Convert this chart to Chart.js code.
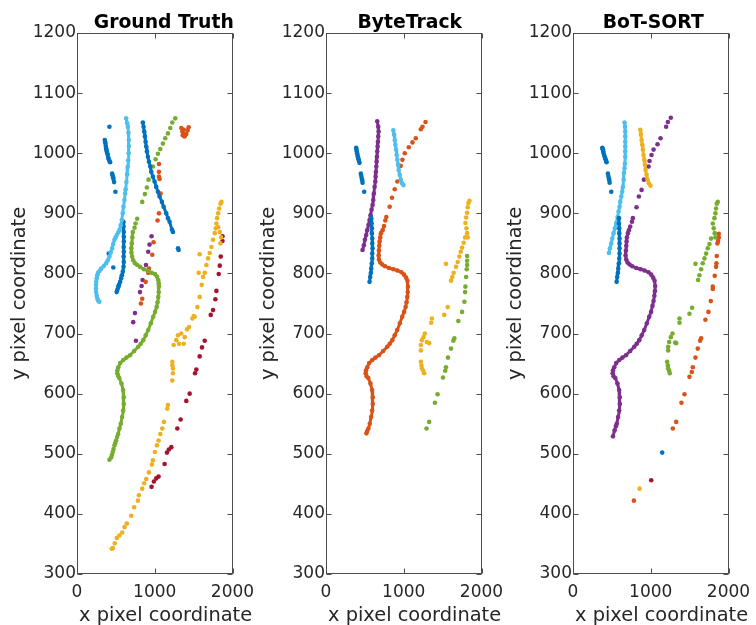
<!DOCTYPE html>
<html>
<head>
<meta charset="utf-8">
<script src="https://cdn.jsdelivr.net/npm/chart.js@4.4.1/dist/chart.umd.min.js"></script>
<style>
  body { margin: 0; background: #fff; }
  #wrap { position: relative; width: 756px; height: 625px; overflow: hidden; background: #fff; }
  .panel { position: absolute; top: 0; width: 260px; height: 625px; }
</style>
</head>
<body>
<div id="wrap">
  <canvas id="gt" class="panel" width="260" height="625" style="left:0px"></canvas>
  <canvas id="bt" class="panel" width="260" height="625" style="left:249px"></canvas>
  <canvas id="bs" class="panel" width="260" height="625" style="left:496px"></canvas>
</div>
<script>
'use strict';

// axis ticks
const xTickValues = [0, 1000, 2000];
const yTickValues = [300, 400, 500, 600, 700, 800, 900, 1000, 1100, 1200];

// matlab default colour order
const cBlue = '#0072BD', cOrange = '#D95319', cYellow = '#EDB120', cPurple = '#7E2F8E',
      cGreen = '#77AC30', cLightBlue = '#4DBEEE', cRed = '#A2142F';

// ---------- Ground Truth ----------
const gtLightBlue = [[632,1058],[645,1050],[654,1044],[662,1034],[667,1022],[667,1012],[664,1000],[658,988],[654,978],[645,965],
  [636,952],[626,940],[619,933],[610,922],[598,911],[588,900],[576,889],[562,880],[546,872],[530,868],[512,864],[496,860],
  [482,856],[466,849],[452,842],[434,835],[417,828],[396,822],[374,817],[342,812],[310,808],[290,804],[271,801],[260,797],
  [254,792],[248,786],[245,781],[244,775],[245,769],[253,763],[262,758],[272,755],[287,753]];
const gtBlueDots = [[417,1044],[357,1022],[362,1019],[366,1016],[370,1012],[374,1008],[378,1006],[383,1003],[390,1000],[396,997],
  [402,993],[408,990],[418,987],[426,985],[452,966],[458,963],[465,960],[469,957],[477,952],[494,936],[408,833],[467,810],
  [1299,842],[1307,839]];
const gtBlueDiag = [[847,1051],[856,1044],[864,1036],[873,1028],[882,1019],[890,1011],[899,1003],[912,994],[925,986],[942,978],
  [955,969],[976,961],[998,953],[1019,944],[1041,936],[1062,928],[1092,919],[1114,911],[1148,900],[1170,892],[1191,886],
  [1221,873],[1234,869]];
const gtBlueVert = [[598,886],[598,878],[602,869],[602,861],[602,853],[600,844],[602,836],[600,828],[602,819],[598,811],
  [589,803],[578,797],[568,792],[555,786],[540,781],[531,778],[520,773],[510,769]];
const gtGreenDots = [[1264,1058],[1226,1051],[1200,1042],[1170,1033],[1135,1025],[1105,1016],[1071,1007],[1041,999],[1011,990],
  [976,978],[920,956],[899,943],[873,932],[839,919],[774,891],[753,883],[740,876],
  [516,528],[503,522],[492,518],[482,514],[470,508],[460,503],[449,498],[439,494],[417,490]];
const gtGreenCurve = [[718,869],[712,860],[705,850],[699,842],[700,835],[708,828],[723,822],[745,817],[775,814],[810,811],
  [860,807],[916,804],[960,801],[1002,799],[1028,795],[1045,789],[1052,783],[1054,778],[1051,769],[1045,761],[1036,752],
  [1024,744],[1004,736],[980,728],[950,717],[916,706],[884,697],[852,689],[820,683],[788,678],[735,671],[681,664],[636,660],
  [595,656],[556,651],[531,644],[520,639],[518,634],[528,630],[544,626],[572,617],[593,606],[602,594],[602,583],[593,572],
  [580,561],[563,550],[546,542],[529,533]];
const gtOrange = [[1342,1042],[1355,1036],[1372,1032],[1389,1029],[1406,1032],[1423,1038],[1436,1043],[1372,1039],[1360,1030],
  [1380,1028],[1054,982],[1054,969],[1054,961],[1062,957],[1075,933],[1054,900],[1036,888],[985,852],[968,831],[925,808],
  [916,801],[883,786],[839,758],[822,750]];
const gtPurple = [[959,862],[933,848],[916,836],[887,814],[844,789],[831,779],[810,769],[745,734],[723,719],[758,688]];
const gtYellow = [[1858,919],[1845,916],[1828,908],[1815,900],[1802,892],[1793,883],[1785,875],[1815,877],[1836,869],[1853,860],
  [1845,850],[1772,867],[1750,856],[1729,844],[1707,834],[1686,825],[1664,814],[1578,832],[1565,801],[1643,801],[1621,794],
  [1604,781],[1578,761],[1548,744],[1514,728],[1501,729],[1484,725],[1441,711],[1415,707],[1385,694],[1372,683],[1342,700],
  [1299,697],[1277,689],[1312,683],[1243,681],[1226,653],[1226,647],[1234,642],[1234,634],[1226,622],[1170,581],[1161,575],
  [1118,553],[1097,542],[1071,533],[1049,522],[1028,514],[1002,503],[976,489],[963,482],[925,469],[890,458],[864,451],
  [839,442],[796,431],[783,422],[735,411],[697,397],[641,384],[611,378],[581,369],[546,364],[512,360],[486,351],[460,343],
  [447,342]];
const gtRed = [[1871,862],[1871,854],[1849,828],[1836,813],[1823,799],[1793,771],[1780,757],[1750,739],[1720,731],[1643,688],
  [1608,677],[1578,662],[1535,640],[1518,634],[1449,600],[1406,588],[1333,557],[1290,542],[1213,511],[1182,507],[1157,502],
  [1127,483],[1049,462],[1019,459],[989,454],[959,445]];

// ---------- ByteTrack ----------
const btBlueDots = [[388,1009],[392,1006],[396,1003],[401,1000],[405,997],[409,994],[414,992],[418,990],[424,987],[431,984],
  [448,966],[454,962],[461,958],[466,955],[470,951],[491,936]];
const btBlueVert = [[582,892],[586,883],[590,875],[590,867],[595,858],[595,850],[599,842],[595,833],[595,825],[590,817],
  [582,808],[578,801],[569,794],[560,786]];
const btPurple = [[659,1053],[672,1044],[677,1036],[672,1028],[668,1019],[664,1011],[659,1003],[655,994],[651,986],[647,978],
  [642,969],[638,961],[634,953],[625,944],[616,933],[608,922],[599,914],[586,906],[573,897],[560,889],[547,881],[530,872],
  [517,864],[500,856],[487,847],[470,839]];
const btLightBlue = [[866,1038],[875,1031],[884,1022],[892,1014],[901,1006],[909,997],[918,989],[927,981],[935,972],[948,964],
  [961,956],[978,950],[996,947]];
const btOrangeDots = [[1280,1052],[1241,1044],[1220,1040],[1155,1025],[1112,1018],[1065,1010],[1013,1000],[983,989],[961,979],
  [918,953],[884,940],[849,926],[819,911],[776,894],[763,888]];
const btOrangeCurve = [[746,879],[728,872],[707,867],[698,860],[690,853],[685,846],[681,838],[677,830],[681,823],[698,818],
  [724,815],[759,812],[810,809],[866,807],[918,805],[970,802],[1004,798],[1030,793],[1047,788],[1054,778],[1051,769],
  [1045,761],[1036,752],[1024,744],[1004,736],[980,728],[950,717],[916,706],[884,697],[852,689],[820,683],[788,678],
  [735,671],[681,664],[636,660],[595,656],[556,651],[531,644],[515,639],[510,634],[522,629],[544,626],[572,617],[593,606],
  [602,594],[602,583],[593,572],[580,561],[563,550],[546,542],[530,538],[520,534]];
const btYellow = [[1845,921],[1832,917],[1823,910],[1815,901],[1802,893],[1793,884],[1806,875],[1815,867],[1823,860],[1789,860],
  [1771,851],[1750,843],[1733,836],[1715,828],[1694,819],[1672,811],[1642,801],[1625,794],[1608,788],[1543,816],[1565,744],
  [1521,731],[1362,725],[1353,718],[1271,700],[1254,694],[1233,689],[1220,681],[1220,672],[1297,686],[1327,684],[1220,653],
  [1228,647],[1233,642],[1250,638],[1263,634]];
const btGreen = [[1815,829],[1815,821],[1815,814],[1810,807],[1802,794],[1793,778],[1789,769],[1780,753],[1750,736],[1702,721],
  [1651,692],[1638,688],[1608,675],[1569,660],[1543,644],[1534,638],[1504,627],[1435,599],[1401,585],[1327,553],[1293,542]];

// ---------- BoT-SORT ----------
const bsBlueDots = [[377,1009],[381,1007],[385,1006],[390,1003],[394,1000],[400,997],[407,994],[413,992],[419,990],[426,987],
  [432,985],[449,966],[455,962],[462,958],[467,955],[471,951],[492,936],[1147,502]];
const bsBlueVert = [[591,892],[591,883],[595,875],[595,867],[599,858],[599,850],[599,842],[599,833],[595,825],[591,817],
  [582,808],[578,801],[569,794],[561,786]];
const bsLightBlue = [[663,1051],[668,1044],[672,1036],[672,1028],[672,1019],[672,1011],[672,1003],[672,994],[668,983],[663,975],
  [655,967],[651,956],[642,944],[633,936],[621,928],[608,919],[599,911],[586,903],[574,894],[556,884],[539,875],[522,867],
  [505,858],[492,850],[475,842],[462,834]];
const bsYellowLine = [[865,1039],[873,1031],[882,1022],[890,1014],[899,1006],[907,997],[916,989],[925,981],[933,972],[946,964],
  [959,956],[976,950],[997,946]];
const bsYellowDots = [[856,442]];
const bsPurpleDots = [[1258,1059],[1220,1052],[1198,1044],[1126,1025],[1087,1015],[1036,1006],[1010,997],[984,987],[972,978],
  [912,956],[882,939],[847,928],[817,910],[770,892],[758,886]];
const bsPurpleCurve = [[736,878],[719,872],[706,867],[693,860],[689,853],[685,846],[681,838],[676,830],[685,823],[702,818],
  [728,815],[762,812],[813,809],[869,807],[920,805],[972,802],[1006,798],[1031,793],[1049,788],[1057,779],[1054,771],
  [1047,763],[1036,754],[1022,746],[1004,736],[980,728],[950,717],[916,706],[884,697],[852,689],[820,683],[788,678],
  [735,671],[681,664],[636,660],[595,656],[556,651],[531,644],[515,639],[510,634],[522,629],[544,626],[572,617],[593,606],
  [602,594],[602,583],[593,572],[580,561],[563,550],[552,546],[535,539],[514,529]];
const bsGreen = [[1862,919],[1849,916],[1840,908],[1832,900],[1819,892],[1798,883],[1810,875],[1823,867],[1832,860],[1776,858],
  [1755,849],[1733,842],[1712,833],[1691,825],[1669,817],[1648,807],[1626,797],[1609,789],[1575,816],[1532,743],[1498,733],
  [1370,725],[1370,718],[1280,700],[1258,694],[1237,686],[1224,678],[1224,672],[1314,685],[1327,684],[1211,653],[1220,647],
  [1224,642],[1237,638],[1245,634]];
const bsOrange = [[1875,866],[1875,860],[1866,854],[1858,850],[1849,829],[1845,817],[1840,811],[1823,796],[1798,778],[1798,774],
  [1772,754],[1742,736],[1703,723],[1648,692],[1635,688],[1605,675],[1575,660],[1541,644],[1528,636],[1498,628],[1434,599],
  [1395,585],[1327,553],[1284,542],[783,422]];
const bsRed = [[1006,456]];

function dots(pts, color) {
  return {
    data: pts.map(p => ({ x: p[0], y: p[1] })),
    backgroundColor: color,
    borderColor: color,
    pointRadius: 2.3,
    pointBorderWidth: 0,
    showLine: false
  };
}

function trail(pts, color) {
  let ds = dots(pts, color);
  ds.showLine = true;
  ds.borderWidth = 3;
  ds.tension = 0;
  return ds;
}

// box, inward ticks, titles and axis labels, drawn the matlab way
const matlabAxes = {
  id: 'matlabAxes',
  afterDraw(chart, args, opts) {
    const ctx = chart.ctx;
    const a = chart.chartArea;
    const xs = chart.scales.x, ys = chart.scales.y;
    const l = Math.round(a.left) + 0.5, r = Math.round(a.right) - 0.5;
    const t = Math.round(a.top) + 0.5, b = Math.round(a.bottom) - 0.5;
    ctx.save();
    ctx.strokeStyle = '#4d4d4d';
    ctx.lineWidth = 1;
    ctx.strokeRect(l, t, r - l, b - t);
    ctx.beginPath();
    xTickValues.forEach(v => {
      const px = Math.round(xs.getPixelForValue(v)) + 0.5;
      ctx.moveTo(px, b); ctx.lineTo(px, b - 5);
      ctx.moveTo(px, t); ctx.lineTo(px, t + 5);
    });
    yTickValues.forEach(v => {
      const py = Math.round(ys.getPixelForValue(v)) + 0.5;
      ctx.moveTo(l, py); ctx.lineTo(l + 5, py);
      ctx.moveTo(r, py); ctx.lineTo(r - 5, py);
    });
    ctx.stroke();

    ctx.fillStyle = '#000';
    ctx.font = 'bold 18.8px "DejaVu Sans"';
    ctx.textAlign = 'center';
    ctx.textBaseline = 'alphabetic';
    ctx.fillText(opts.title, (a.left + a.right) / 2 + opts.shift, 28);

    ctx.fillStyle = '#262626';
    ctx.font = '19.4px "DejaVu Sans"';
    ctx.textAlign = 'left';
    ctx.fillText('x pixel coordinate', a.left + 2, 621);
    ctx.translate(a.left - 52, (a.top + a.bottom) / 2 - 10);
    ctx.rotate(-Math.PI / 2);
    ctx.textAlign = 'center';
    ctx.fillText('y pixel coordinate', 0, 0);
    ctx.restore();
  }
};

const tickFont = { family: 'DejaVu Sans', size: 17 };

function makeChart(id, title, shift, datasets) {
  new Chart(document.getElementById(id), {
    type: 'scatter',
    data: { datasets: datasets },
    plugins: [matlabAxes],
    options: {
      responsive: false,
      animation: false,
      layout: { padding: { left: 0, right: 27.5, top: 33, bottom: 0 } },
      plugins: {
        legend: { display: false },
        tooltip: { enabled: false },
        matlabAxes: { title: title, shift: shift }
      },
      scales: {
        x: {
          type: 'linear', min: 0, max: 2000,
          grid: { display: false, drawTicks: false },
          border: { display: false },
          ticks: { color: '#262626', font: tickFont, padding: 8, maxRotation: 0, autoSkip: false,
                   callback: v => String(v) },
          afterBuildTicks: s => { s.ticks = xTickValues.map(v => ({ value: v })); },
          afterFit: s => { s.height = 51; s.paddingLeft = 0; s.paddingRight = 0; }
        },
        y: {
          type: 'linear', min: 300, max: 1200,
          grid: { display: false, drawTicks: false },
          border: { display: false },
          ticks: { color: '#262626', font: tickFont, padding: 1, autoSkip: false,
                   callback: v => String(v) },
          afterBuildTicks: s => { s.ticks = yTickValues.map(v => ({ value: v })); },
          afterFit: s => { s.width = 77; s.paddingTop = 0; s.paddingBottom = 0; }
        }
      }
    }
  });
}

makeChart('gt', 'Ground Truth', 9, [
  trail(gtLightBlue, cLightBlue),
  dots(gtBlueDots, cBlue),
  trail(gtBlueDiag, cBlue),
  trail(gtBlueVert, cBlue),
  dots(gtGreenDots, cGreen),
  trail(gtGreenCurve, cGreen),
  dots(gtOrange, cOrange),
  dots(gtPurple, cPurple),
  dots(gtYellow, cYellow),
  dots(gtRed, cRed)
]);

makeChart('bt', 'ByteTrack', 6, [
  dots(btBlueDots, cBlue),
  trail(btBlueVert, cBlue),
  trail(btPurple, cPurple),
  trail(btLightBlue, cLightBlue),
  dots(btOrangeDots, cOrange),
  trail(btOrangeCurve, cOrange),
  dots(btYellow, cYellow),
  dots(btGreen, cGreen)
]);

makeChart('bs', 'BoT-SORT', 2.5, [
  dots(bsBlueDots, cBlue),
  trail(bsBlueVert, cBlue),
  trail(bsLightBlue, cLightBlue),
  trail(bsYellowLine, cYellow),
  dots(bsYellowDots, cYellow),
  dots(bsPurpleDots, cPurple),
  trail(bsPurpleCurve, cPurple),
  dots(bsGreen, cGreen),
  dots(bsOrange, cOrange),
  dots(bsRed, cRed)
]);
</script>
</body>
</html>
